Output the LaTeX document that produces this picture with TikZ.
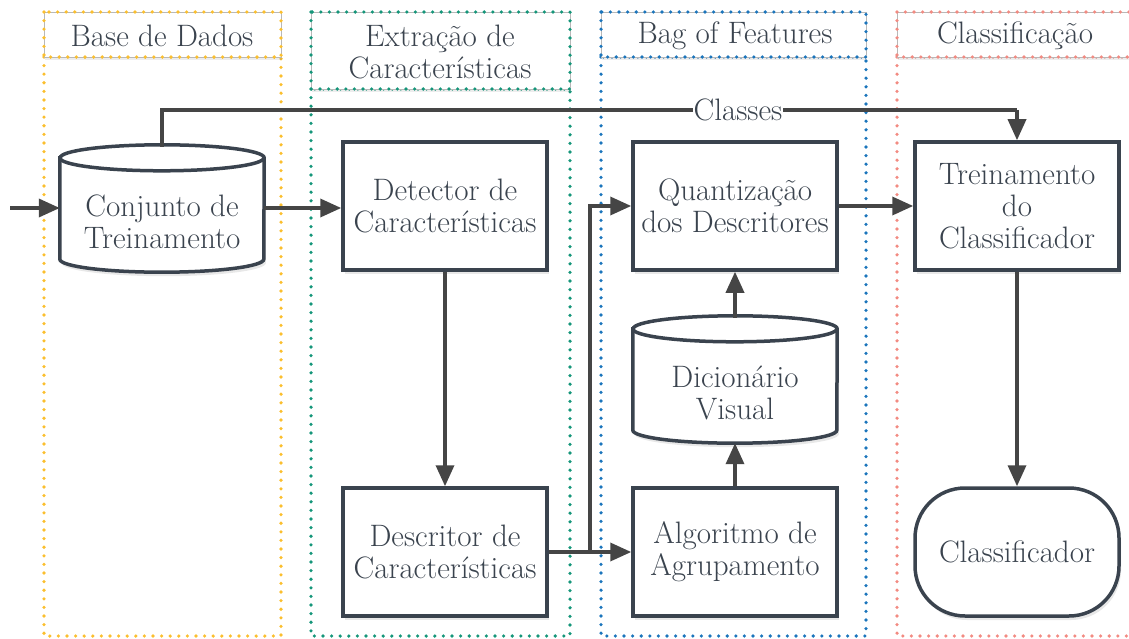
\documentclass[tikz,border=0pt]{standalone}
\usepackage{fontspec}
\usetikzlibrary{arrows.meta,shadows}
\pgfdeclarelayer{bg}
\pgfsetlayers{bg,main}
\definecolor{ink}{HTML}{3A434E}
\definecolor{lin}{HTML}{454545}
\definecolor{cyel}{HTML}{FBBF2E}
\definecolor{cgrn}{HTML}{15967A}
\definecolor{cblu}{HTML}{1B75BC}
\definecolor{cred}{HTML}{F28B82}
\tikzset{
  txt/.style={text=ink, font=\fontsize{31}{32}\selectfont, align=center},
  nshadow/.style={drop shadow={opacity=0.18, shadow xshift=2pt, shadow yshift=-4pt}},
  procbox/.style={txt, draw=ink, line width=3.5pt, fill=white, minimum width=204pt, minimum height=128pt, inner sep=0pt, nshadow},
  dbtext/.style={txt, minimum width=204pt, minimum height=101pt, inner sep=0pt},
  dbbody/.style={draw=ink, line width=3.5pt, fill=white, nshadow},
  dbrim/.style={draw=ink, line width=3.5pt},
  termbox/.style={procbox, rounded corners=50pt},
  conn/.style={draw=lin, line width=3.5pt, -{Triangle[length=21pt,width=18pt]}},
  plainconn/.style={draw=lin, line width=3.5pt},
  lane/.style={line width=3.6pt, dash pattern=on 0pt off 8.6pt, line cap=round},
  titlebg/.style={draw=black!28, line width=0.8pt, fill=white, drop shadow={opacity=0.14, shadow xshift=1pt, shadow yshift=-3pt}},
  lanetitle/.style={txt, inner sep=0pt},
}
\newcommand{\dbshape}[1]{%
  \begin{pgfonlayer}{bg}
  \path[dbbody] ([yshift=13pt]#1.north west) -- ([yshift=13pt]#1.south west)
     arc[start angle=180, end angle=360, x radius=102pt, y radius=13pt]
     -- ([yshift=13pt]#1.north east)
     arc[start angle=0, end angle=180, x radius=102pt, y radius=13pt] -- cycle;
  \path[dbrim] ([yshift=13pt]#1.north west)
     arc[start angle=180, end angle=360, x radius=102pt, y radius=13pt];
  \end{pgfonlayer}}
\begin{document}
\begin{tikzpicture}[x=1pt,y=-1pt]
\useasboundingbox (0,0) rectangle (1129,639);
% lanes
\draw[lane, cyel] (44,57) rectangle (281,636);
\draw[titlebg] (44,12) rectangle (281,57);
\draw[lane, cyel] (44,12) rectangle (281,57);
\draw[lane, cgrn] (311,89) rectangle (570,636);
\draw[titlebg] (311,12) rectangle (570,89);
\draw[lane, cgrn] (311,12) rectangle (570,89);
\draw[lane, cblu] (601,57) rectangle (866,636);
\draw[titlebg] (601,12) rectangle (866,57);
\draw[lane, cblu] (601,12) rectangle (866,57);
\draw[lane, cred] (897,57) rectangle (1140,636);
\draw[titlebg] (897,12) rectangle (1140,57);
\draw[lane, cred] (897,12) rectangle (1140,57);
\node[lanetitle] (t1) at (162,36) {Base de Dados};
\node[lanetitle] (t2) at (440,52) {Extração de\\Características};
\node[lanetitle] (t3) at (735,36) {Bag of Features};
\node[lanetitle] (t4) at (1015,36) {Classificação};
% nodes
\node[dbtext] (conj) at (162,221.5) {Conjunto de\\Treinamento};
\dbshape{conj}
\node[procbox] (det) at (445,206) {Detector de\\Características};
\node[procbox] (desc) at (445,552) {Descritor de\\Características};
\node[procbox] (quant) at (735,206) {Quantização\\dos Descritores};
\node[dbtext] (dic) at (735,392.5) {Dicionário\\Visual};
\dbshape{dic}
\node[procbox] (alg) at (735,552) {Algoritmo de\\Agrupamento};
\node[procbox] (trein) at (1017,206) {Treinamento\\do\\Classificador};
\node[termbox] (clf) at (1017,552) {Classificador};
% connectors
\coordinate (in) at (10,208);
\draw[conn] (in) -- (conj.west |- in);
\draw[conn] (conj.east |- in) -- (det.west |- in);
\coordinate (c1) at (162,110);
\coordinate (c2) at (1017,110);
\draw[plainconn] ([yshift=24pt]conj.north) -- (c1) -- (c2);
\draw[conn] (c2) -- (trein.north);
\node[txt, fill=white, inner sep=1pt] (cls) at (738,110) {Classes};
\draw[conn] (det) -- (desc);
\draw[conn] (desc) -- (alg);
\coordinate (br) at (590,552);
\draw[conn] (br) |- (quant.west);
\draw[conn] (alg) -- (dic.south);
\draw[conn] ([yshift=24pt]dic.north) -- (quant.south);
\draw[conn] (quant.east) -- (trein.west);
\draw[conn] (trein) -- (clf);
\end{tikzpicture}
\end{document}
